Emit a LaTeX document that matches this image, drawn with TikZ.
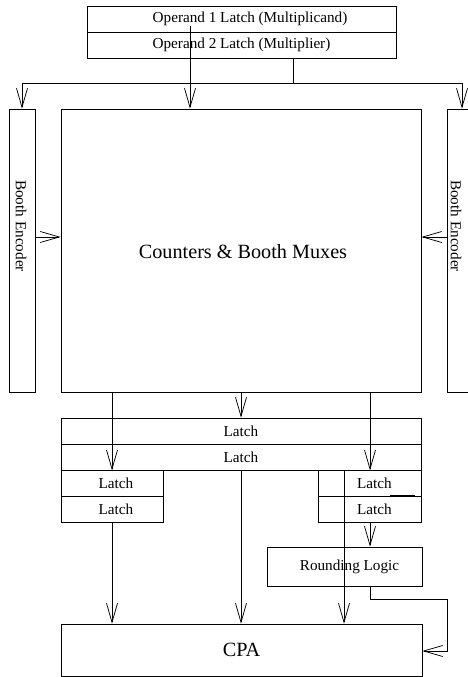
\documentclass[tikz,border=0pt]{standalone}
\usepackage{fontspec}
\setmainfont{Liberation Serif}
\usetikzlibrary{arrows.meta}
\begin{document}
\begin{tikzpicture}[x=1pt,y=-1pt,
  line width=0.75pt,
  >={Straight Barb[length=19pt,width=11pt,line width=0.75pt]},
  blk/.style={draw,rectangle,inner sep=0pt,font=\fontsize{15.2}{18}\selectfont},
  big/.style={font=\fontsize{20.2}{24}\selectfont}]
\useasboundingbox (0,0) rectangle (468,677);
% blocks
\node[blk,minimum width=309pt,minimum height=26pt] (op1) at (241.5,19) {\hspace*{17pt}Operand 1 Latch (Multiplicand)};
\node[blk,minimum width=309pt,minimum height=26pt] (op2) at (241.5,45) {Operand 2 Latch (Multiplier)};
\node[blk,minimum width=26pt,minimum height=283pt] (lbe) at (22,250.5) {};
\node[font=\fontsize{15.2}{18}\selectfont,rotate=-90,inner sep=0pt] (lbet) at (21,226) {Booth Encoder};
\node[blk,minimum width=26pt,minimum height=283pt] (rbe) at (460,250.5) {};
\node[font=\fontsize{15.2}{18}\selectfont,rotate=-90,inner sep=0pt] (rbet) at (456,226) {Booth Encoder};
\node[blk,minimum width=360pt,minimum height=283pt] (main) at (241,250.5) {};
\node[big,inner sep=0pt] (maint) at (243,252) {Counters \& Booth Muxes};
\node[blk,minimum width=360pt,minimum height=26pt] (latA) at (241,431) {Latch};
\node[blk,minimum width=360pt,minimum height=26pt] (latB) at (241,457) {Latch};
\node[blk,minimum width=102pt,minimum height=26pt] (ll1) at (112,483) {\hspace*{8pt}Latch};
\node[blk,minimum width=102pt,minimum height=26pt] (ll2) at (112,509) {\hspace*{8pt}Latch};
\node[blk,minimum width=103pt,minimum height=26pt] (rl1) at (369.5,483) {\hspace*{10pt}Latch};
\node[blk,minimum width=103pt,minimum height=26pt] (rl2) at (369.5,509) {\hspace*{10pt}Latch};
\node[blk,minimum width=155pt,minimum height=39pt] (rnd) at (344.5,566.5) {\hspace*{10pt}Rounding Logic};
\node[blk,big,minimum width=361pt,minimum height=52pt] (cpa) at (241.5,650) {CPA};
% coordinates
\coordinate (tap) at (293,83);
\coordinate (busL) at (22,83);
\coordinate (busR) at (462,83);
\coordinate (midx) at (190,26);
\coordinate (ey) at (0,237);
\coordinate (xl) at (112,0);
\coordinate (xc) at (241,0);
\coordinate (xr) at (370,0);
\coordinate (xv) at (344,0);
\coordinate (rt1) at (370,599);
\coordinate (rt2) at (447,599);
\coordinate (rt3) at (447,651);
% connectors
\draw (tap |- op2.south) -- (tap);
\draw (busL) -- (busR);
\draw[->] (busL) -- (busL |- lbe.north);
\draw[->] (busR) -- (busR |- rbe.north);
\draw[->] (midx) -- (midx |- main.north);
\draw[->] (lbe.east |- ey) -- (main.west |- ey);
\draw[->] (rbe.west |- ey) -- (main.east |- ey);
\draw[->] (xc |- main.south) -- (xc |- latA.north);
\draw[->] (xl |- main.south) -- (xl |- latB.south);
\draw[->] (xr |- main.south) -- (xr |- latB.south);
\draw[->] (xc |- latB.south) -- (xc |- cpa.north);
\draw[->] (xl |- ll2.south) -- (xl |- cpa.north);
\draw[->] (xv |- rl1.north) -- (xv |- cpa.north);
\draw[->] (xr |- rl2.south) -- (xr |- rnd.north);
\draw[->] (xr |- rnd.south) -- (rt1) -- (rt2) -- (rt3) -- (cpa.east |- rt3);
\draw[line width=1.4pt] (390,496) -- (415,496);
\end{tikzpicture}
\end{document}
